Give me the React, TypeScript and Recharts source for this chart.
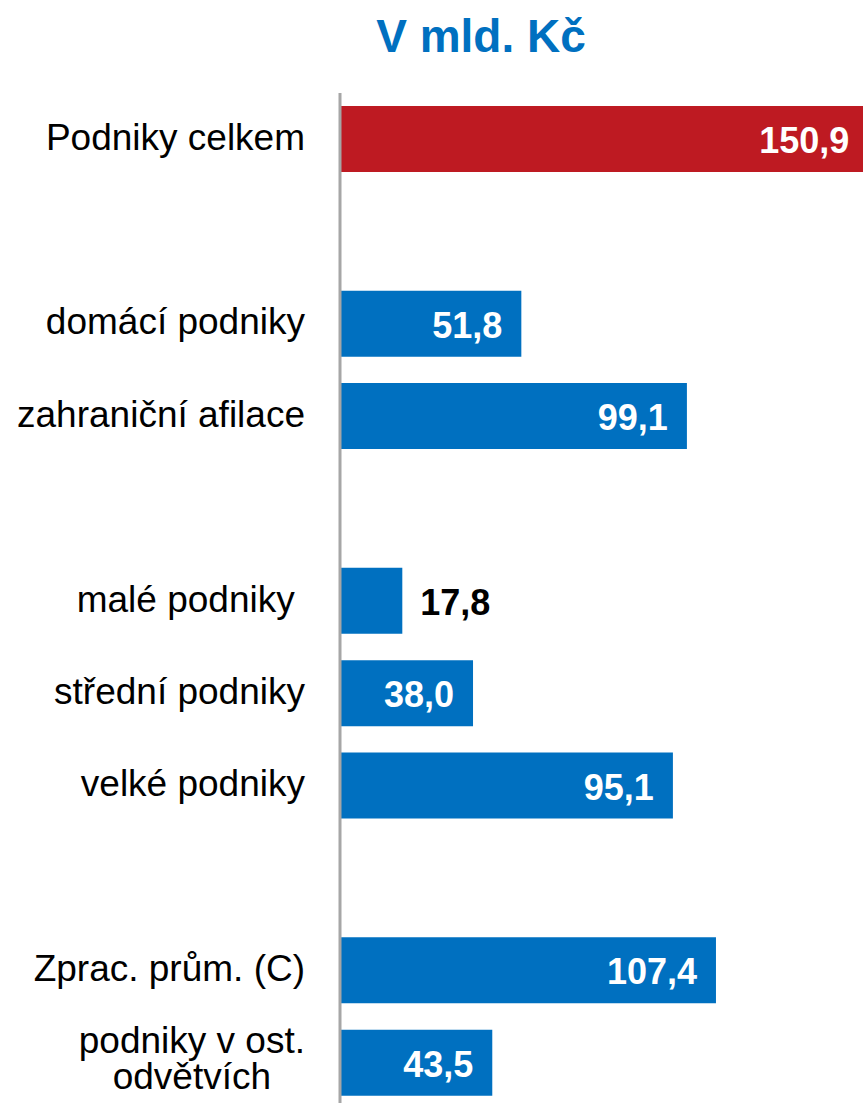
import { Bar, BarChart, Cell, LabelList, XAxis, YAxis } from "recharts";

const categories = [
  "Podniky celkem",
  "",
  "domácí podniky",
  "zahraniční afilace",
  "",
  "malé podniky ",
  "střední podniky",
  "velké podniky",
  "",
  "Zprac. prům. (C)",
  "podniky v ost.\nodvětvích",
];

const values: (number | null)[] = [
  150.9, null, 51.8, 99.1, null, 17.8, 38.0, 95.1, null, 107.4, 43.5,
];

const title = "V mld. Kč";

const FONT = "'Liberation Sans', Arial, sans-serif";
const BLUE = "#0070c0";
const RED = "#be1a22";
const LABEL_SIZE = 37;

const data = categories.map((name, i) => ({
  name,
  value: values[i],
}));

let ctx: CanvasRenderingContext2D | null = null;
function measure(text: string) {
  if (!ctx) ctx = document.createElement("canvas").getContext("2d");
  if (!ctx) return text.length * 18;
  ctx.font = `${LABEL_SIZE}px ${FONT}`;
  return ctx.measureText(text).width;
}

function CategoryTick(props: any) {
  const { x, y, payload } = props;
  const lines = String(payload.value).split("\n");
  if (lines.length === 1) {
    return (
      <text
        x={x}
        y={y + 10.5}
        textAnchor="end"
        fontSize={LABEL_SIZE}
        fontFamily={FONT}
        fill="#000"
        xmlSpace="preserve"
        style={{ whiteSpace: "pre" }}
      >
        {lines[0]}
      </text>
    );
  }
  // wrapped label: lines centred on each other, block right-aligned
  const first = y + 10.5 - (lines.length - 1) * 20;
  const maxW = Math.max(...lines.map(measure));
  return (
    <text
      textAnchor="middle"
      fontSize={LABEL_SIZE}
      fontFamily={FONT}
      fill="#000"
    >
      {lines.map((line, i) => (
        <tspan key={i} x={x - maxW / 2} y={first + i * 36}>
          {line}
        </tspan>
      ))}
    </text>
  );
}

function ValueLabel(props: any) {
  const { x, y, width, height, value } = props;
  if (value == null) return null;
  const text = Number(value).toFixed(1).replace(".", ",");
  const outside = Number(value) < 25;
  return (
    <text
      x={outside ? x + width + 18 : x + width - 19}
      y={y + height / 2 + 14}
      textAnchor={outside ? "start" : "end"}
      fontSize={36}
      fontWeight="bold"
      fontFamily={FONT}
      fill={outside ? "#000" : "#fff"}
    >
      {text}
    </text>
  );
}

export default function App() {
  return (
    <div
      style={{
        position: "absolute",
        left: 0,
        top: 0,
        width: 863,
        height: 1103,
        overflow: "hidden",
        background: "#fff",
      }}
    >
      <div
        style={{
          position: "absolute",
          left: 281,
          top: 13,
          width: 400,
          textAlign: "center",
          fontFamily: FONT,
          fontWeight: "bold",
          fontSize: 46,
          lineHeight: "46px",
          color: BLUE,
        }}
      >
        {title}
      </div>
      <BarChart
        width={863}
        height={1109}
        data={data}
        layout="vertical"
        margin={{ top: 93, right: 0, bottom: 0, left: 0 }}
        barCategoryGap={0}
      >
        <XAxis
          type="number"
          hide
          domain={[0, 149.4]}
          allowDataOverflow
        />
        <YAxis
          type="category"
          dataKey="name"
          width={340}
          axisLine={{ stroke: "#a6a6a6", strokeWidth: 3 }}
          tickLine={false}
          tickSize={0}
          tickMargin={35}
          interval={0}
          tick={<CategoryTick />}
        />
        <Bar
          dataKey="value"
          barSize={66}
          isAnimationActive={false}
        >
          {data.map((d, i) => (
            <Cell key={i} fill={d.name === "Podniky celkem" ? RED : BLUE} />
          ))}
          <LabelList dataKey="value" content={<ValueLabel />} />
        </Bar>
      </BarChart>
    </div>
  );
}
